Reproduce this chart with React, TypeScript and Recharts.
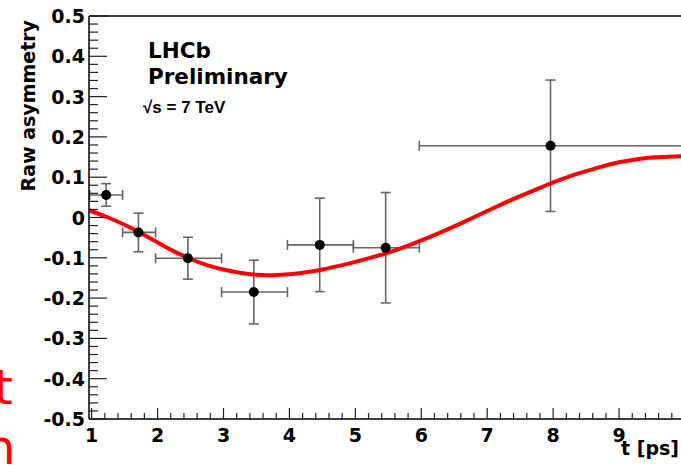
import React from "react";
import { ComposedChart, Line, Scatter, ErrorBar, XAxis, YAxis, ReferenceLine } from "recharts";

// measured points (bin mean time, raw asymmetry, error) and bin edges
const tMean = [1.22, 1.71, 2.46, 3.46, 4.46, 5.46, 7.96];
const asym = [0.056, -0.037, -0.101, -0.185, -0.068, -0.075, 0.178];
const asymErr = [0.028, 0.048, 0.052, 0.079, 0.116, 0.137, 0.163];
const binLow = [0.97, 1.47, 1.97, 2.97, 3.97, 4.97, 5.97];
const binHigh = [1.47, 1.97, 2.97, 3.97, 4.97, 5.97, 10];

// fitted curve
const fitT = [0.96, 1.25, 1.5, 1.75, 2, 2.25, 2.5, 2.75, 3, 3.25, 3.5, 3.75, 4, 4.25, 4.5, 4.75, 5, 5.25, 5.5, 5.75, 6, 6.25, 6.5, 6.75, 7, 7.25, 7.5, 7.75, 8, 8.25, 8.5, 8.75, 9, 9.25, 9.5, 9.75, 10];
const fitA = [0.018, 0.0, -0.018, -0.039, -0.062, -0.084, -0.103, -0.118, -0.129, -0.137, -0.142, -0.143, -0.141, -0.136, -0.129, -0.12, -0.11, -0.099, -0.087, -0.073, -0.057, -0.04, -0.022, -0.003, 0.016, 0.035, 0.053, 0.07, 0.087, 0.102, 0.115, 0.127, 0.137, 0.144, 0.149, 0.151, 0.152];

const xMajor = [1, 2, 3, 4, 5, 6, 7, 8, 9, 10];
const xLabels = ["1", "2", "3", "4", "5", "6", "7", "8", "9", ""];
const yMajor = [-0.5, -0.4, -0.3, -0.2, -0.1, 0, 0.1, 0.2, 0.3, 0.4, 0.5];
const yLabels = ["-0.5", "-0.4", "-0.3", "-0.2", "-0.1", "0", "0.1", "0.2", "0.3", "0.4", "0.5"];

const points = tMean.map((t, i) => ({
  t,
  a: asym[i],
  ey: asymErr[i],
  ex: [t - binLow[i], binHigh[i] - t],
}));
const fit = fitT.map((t, i) => ({ t, a: fitA[i] }));

// ticks with 5 subdivisions between majors
const subdivide = (major: number[]) => {
  const out: number[] = [];
  for (let i = 0; i < major.length - 1; i++) {
    const step = (major[i + 1] - major[i]) / 5;
    for (let k = 0; k < 5; k++) out.push(+(major[i] + k * step).toFixed(4));
  }
  out.push(major[major.length - 1]);
  return out;
};
const xTicks = subdivide(xMajor);
const yTicks = subdivide(yMajor);

const font = "'DejaVu Sans', sans-serif";
const tickColor = "#222";

const XTick = (props: any) => {
  const { x, y, payload } = props;
  const idx = xMajor.findIndex((m) => Math.abs(m - payload.value) < 1e-6);
  const major = idx >= 0;
  return (
    <g>
      <line x1={x} y1={y} x2={x} y2={y - (major ? 11 : 6)} stroke={tickColor} strokeWidth={1.2} />
      {major && (
        <text x={x} y={y + 23} textAnchor="middle" fontFamily={font} fontWeight="bold" fontSize={19} fill="#000">
          {xLabels[idx]}
        </text>
      )}
    </g>
  );
};

const YTick = (props: any) => {
  const { x, y, payload } = props;
  const idx = yMajor.findIndex((m) => Math.abs(m - payload.value) < 1e-6);
  const major = idx >= 0;
  return (
    <g>
      <line x1={x} y1={y} x2={x + (major ? 18 : 9)} y2={y} stroke={tickColor} strokeWidth={1.2} />
      {major && (
        <text x={x - 4} y={y + 7} textAnchor="end" fontFamily={font} fontWeight="bold" fontSize={19} fill="#000">
          {yLabels[idx]}
        </text>
      )}
    </g>
  );
};

const Dot = (p: any) => <circle cx={p.cx} cy={p.cy} r={5} fill="#000" />;

export default function App() {
  return (
    <div style={{ position: "absolute", left: 0, top: 0, width: 681, height: 467, overflow: "hidden", background: "#fff" }}>
      <ComposedChart width={700} height={467} margin={{ top: 16, right: 15, bottom: 0, left: 0 }}>
        <XAxis
          dataKey="t"
          type="number"
          domain={[0.96, 10]}
          allowDataOverflow
          ticks={xTicks}
          interval={0}
          tick={<XTick />}
          tickSize={0}
          tickMargin={0}
          tickLine={false}
          axisLine={{ stroke: "#000", strokeWidth: 1.5 }}
          height={48}
        />
        <YAxis
          type="number"
          domain={[-0.5, 0.5]}
          allowDataOverflow
          ticks={yTicks}
          interval={0}
          tick={<YTick />}
          tickSize={0}
          tickMargin={0}
          tickLine={false}
          axisLine={{ stroke: "#000", strokeWidth: 1.5 }}
          width={89}
        />
        <ReferenceLine y={0.5} stroke="#000" strokeWidth={1.5} ifOverflow="visible" />
        <Scatter data={points} dataKey="a" shape={<Dot />} isAnimationActive={false}>
          <ErrorBar dataKey="ex" direction="x" width={5} stroke="#666" strokeWidth={1.6} />
          <ErrorBar dataKey="ey" direction="y" width={5} stroke="#666" strokeWidth={1.6} />
        </Scatter>
        <Line data={fit} dataKey="a" type="natural" stroke="#ff0000" strokeWidth={4} dot={false} isAnimationActive={false} />
        <text x={148} y={58} fontFamily={font} fontWeight="bold" fontSize={21.5} fill="#000">LHCb</text>
        <text x={148} y={84} fontFamily={font} fontWeight="bold" fontSize={21.5} fill="#000">Preliminary</text>
        <text x={143} y={113} fontFamily="'Liberation Sans', Arial, sans-serif" fontWeight="bold" fontSize={17} fill="#000">√s = 7 TeV</text>
        <text x={679} y={455} textAnchor="end" fontFamily={font} fontWeight="bold" fontSize={19} fill="#000">t [ps]</text>
        <text
          x={35}
          y={20}
          transform="rotate(-90, 35, 20)"
          textAnchor="end"
          fontFamily={font}
          fontWeight="bold"
          fontSize={19}
          fill="#000"
        >
          Raw asymmetry
        </text>
        <text x={-6} y={404} fontFamily={font} fontSize={48} fill="#ff0000">t</text>
        <text x={-15} y={464} fontFamily={font} fontSize={48} fill="#ff0000">n</text>
      </ComposedChart>
    </div>
  );
}
